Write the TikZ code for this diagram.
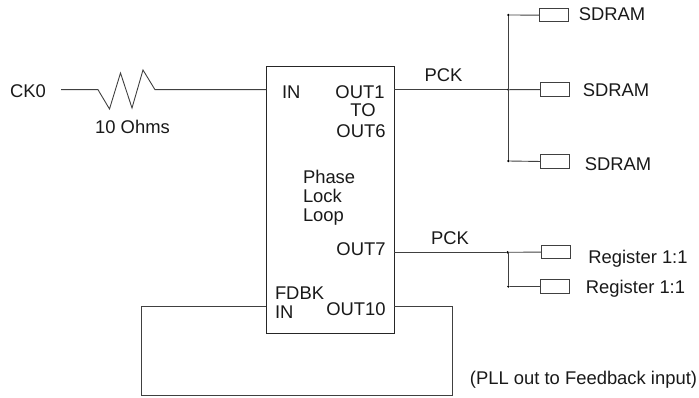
\documentclass[tikz,border=0pt]{standalone}
\usepackage{fontspec}
\setmainfont{Liberation Sans}
\tikzset{
  lbl/.style={inner sep=0pt,outer sep=0pt,anchor=base,font=\fontsize{18.4}{20}\selectfont,text=black!90},
  lblw/.style={lbl,anchor=base west},
  wire/.style={draw=black!75,line width=0.9pt,line join=miter},
  load/.style={draw=black!75,line width=0.9pt,fill=white,minimum width=#1,minimum height=13.5pt,inner sep=0pt,outer sep=0pt},
  load/.default=29pt,
  pll/.style={draw=black!85,line width=0.9pt,fill=white,inner sep=0pt,outer sep=0pt},
  junction/.style={circle,fill=black,inner sep=0pt,minimum size=2.6pt,outer sep=0pt}
}
\begin{document}
\begin{tikzpicture}[x=1pt,y=-1pt]
\useasboundingbox (0,0) rectangle (699,398);
% PLL block
\node[pll,minimum width=128pt,minimum height=267.7pt] (pll) at (330.3,199.9) {};
% Input
\node[lbl] (ck) at (28,98) {CK0};
\coordinate (ckend) at (61,89.7);
\coordinate (inpin) at (266.3,89.7);
\draw[wire] (ckend) -- (98,89.7) -- (109.5,109) -- (120.5,73) -- (132,108) -- (143,70) -- (155,89.7) -- (inpin);
\node[lbl] (ohm) at (132.5,134) {10 Ohms};
% Block labels
\node[lblw] (in1) at (282,98.3) {IN};
\node[lbl] (o1) at (360,98.3) {OUT1};
\node[lbl] (to) at (363,117) {TO};
\node[lbl] (o6) at (361,137.3) {OUT6};
\node[lblw] (ph) at (303,184) {Phase};
\node[lblw] (lo) at (303,203) {Lock};
\node[lblw] (lp) at (303,221.7) {Loop};
\node[lbl] (o7) at (361,256) {OUT7};
\node[lblw] (fd) at (275,299) {FDBK};
\node[lblw] (in2) at (275,318) {IN};
\node[lbl] (o10) at (356,315.7) {OUT10};
% SDRAM fan-out
\coordinate (p1) at (394.3,89.7);
\node[junction] (ja) at (508.3,15) {};
\node[junction] (jb) at (508.3,89.7) {};
\node[junction] (jc) at (508.3,161) {};
\node[load] (s1) at (554,15.2) {};
\node[load] (s2) at (554.8,89.5) {};
\node[load] (s3) at (555,161.7) {};
\draw[wire] (p1) -- (jb);
\draw[wire] (ja) -- (jc);
\draw[wire] (ja) -- (s1);
\draw[wire] (jb) -- (s2);
\draw[wire] (jc) -- (s3);
\node[lbl] (pck1) at (443.5,81.7) {PCK};
\node[lbl] (t1) at (612,20.7) {SDRAM};
\node[lbl] (t2) at (616,97) {SDRAM};
\node[lbl] (t3) at (618,170.3) {SDRAM};
% Registers
\coordinate (p7) at (394.3,252.3);
\node[junction] (jd) at (507.5,252.3) {};
\node[junction] (je) at (508.3,286.5) {};
\node[load] (r1) at (555.5,252) {};
\node[load] (r2) at (555,286.5) {};
\draw[wire] (p7) -- (jd);
\draw[wire] (jd) -- (r1);
\draw[wire] (jd) -| (je);
\draw[wire] (je) -- (r2);
\node[lbl] (pck2) at (450,244) {PCK};
\node[lbl] (t4) at (638,263) {Register 1:1};
\node[lbl] (t5) at (635.5,294) {Register 1:1};
% Feedback
\coordinate (fbin) at (266.3,306.5);
\coordinate (fbout) at (394.3,306.5);
\draw[wire] (fbin) -- (141.5,306.5) -- (141.5,395.5) -- (452,395.5) -- (452,306.5) -- (fbout);
\node[lbl] (note) at (583.5,384) {(PLL out to Feedback input)};
\end{tikzpicture}
\end{document}
